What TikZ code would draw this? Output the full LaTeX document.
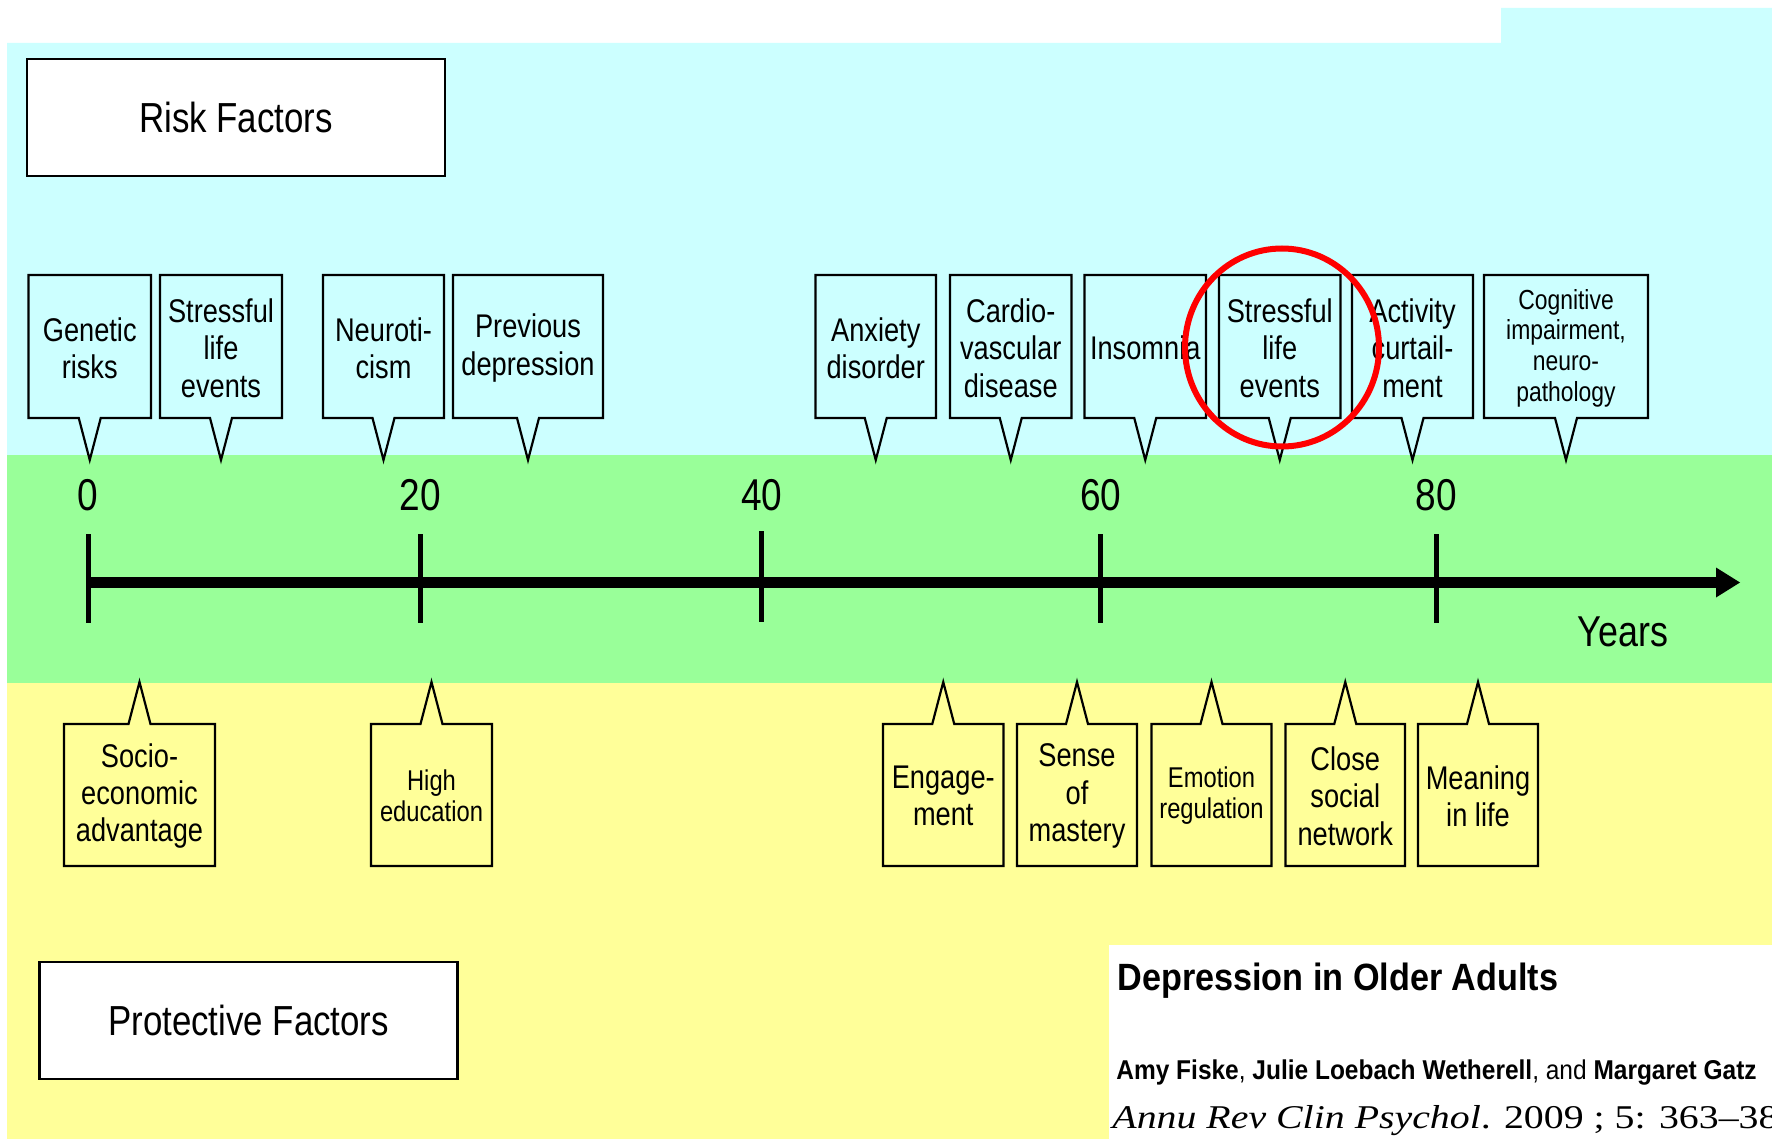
\documentclass[tikz,border=0pt]{standalone}
\usepackage{fontspec}
\setmainfont{Liberation Sans}[FakeStretch=0.83]
\newfontfamily\citesans{Liberation Sans}[FakeStretch=0.9]
\newfontfamily\citeserif{Liberation Serif}[FakeStretch=1.2]
\definecolor{cyanbg}{HTML}{CCFFFF}
\definecolor{greenbg}{HTML}{99FF99}
\definecolor{yellowbg}{HTML}{FFFF99}
\tikzset{
  callout/.style={draw=black, line width=1.1pt, line join=miter},
  calltext/.style={align=center, inner sep=0pt, font=\fontsize{16.4}{18.7}\selectfont},
  smalltext/.style={font=\fontsize{14.3}{15.5}\selectfont},
  cogtext/.style={font=\fontsize{13.8}{15.3}\selectfont},
  labelbox/.style={draw=black, line width=1.4pt, fill=white, minimum width=209pt, minimum height=58.5pt, font=\fontsize{21}{24}\selectfont, inner sep=0pt},
  ticklbl/.style={anchor=base, inner sep=0pt, font=\fontsize{22.3}{26}\selectfont},
  tickline/.style={line width=2.5pt},
}
\newcommand\riskcall[5]{%
  \draw[callout, fill=cyanbg] (#2,275) -- (#3,275) -- (#3,418) -- ({(#2+#3)/2+11},418) -- ({(#2+#3)/2},460) -- ({(#2+#3)/2-11},418) -- (#2,418) -- cycle;
  \node[calltext,#4] (#1) at ({(#2+#3)/2},348) {#5};}
\newcommand\protcall[5]{%
  \draw[callout, fill=yellowbg] (#2,866) -- (#3,866) -- (#3,724) -- ({(#2+#3)/2+11},724) -- ({(#2+#3)/2},682) -- ({(#2+#3)/2-11},724) -- (#2,724) -- cycle;
  \node[calltext,#4] (#1) at ({(#2+#3)/2},796) {#5};}
\begin{document}
\begin{tikzpicture}[x=0.5pt,y=-0.5pt]
\useasboundingbox (0,0) rectangle (1772,1139);
\clip (0,0) rectangle (1772,1139);
% backgrounds
\fill[white] (0,0) rectangle (1772,1139);
\fill[cyanbg] (7,43) -- (1501,43) -- (1501,8) -- (1772,8) -- (1772,456) -- (7,456) -- cycle;
\fill[greenbg] (7,455) rectangle (1772,683);
\fill[yellowbg] (7,683) rectangle (1772,1139);
\fill[white] (1109,945) rectangle (1772,1139);

% title boxes
\node[labelbox] (risk) at (236,117.5) {Risk Factors};
\node[labelbox] (prot) at (248.6,1020.5) {Protective Factors};

% axis
\coordinate (axstart) at (88,582.5);
\coordinate (axend) at (1717,582.5);
\coordinate (axtip) at (1740,582.5);
\draw[line width=5.5pt] (axstart) -- (axend);
\fill (1716,567.5) -- (axtip) -- (1716,597.5) -- cycle;
\foreach \xx/\lab/\ta/\tb in {88/0/534/623, 420/20/534/623, 761.6/40/531/622, 1100.6/60/534/623, 1436/80/534/623}{
  \draw[tickline] (\xx,\ta) -- (\xx,\tb);
  \node[ticklbl] (t\lab) at (\xx,510) {\lab};
}
\node[anchor=base, inner sep=0pt, font=\fontsize{21.6}{25}\selectfont] (years) at (1623,646) {Years};

% risk callouts
\riskcall{gen}{28.5}{151}{}{Genetic\\risks}
\riskcall{strA}{160}{282}{}{Stressful\\life\\events}
\riskcall{neu}{323}{444}{}{Neuroti-\\cism}
\riskcall{prev}{453}{603}{}{Previous\\depression}
\riskcall{anx}{815.5}{936}{}{Anxiety\\disorder}
\riskcall{card}{950}{1071.5}{}{Cardio-\\vascular\\disease}
\riskcall{ins}{1084.5}{1206}{}{Insomnia}
\riskcall{strB}{1219}{1340.5}{}{Stressful\\life\\events}
\riskcall{act}{1352}{1473}{}{Activity\\curtail-\\ment}
\riskcall{cog}{1484}{1648}{cogtext}{Cognitive\\impairment,\\neuro-\\pathology}

% protective callouts
\protcall{soc}{64}{215}{}{Socio-\\economic\\advantage}
\protcall{high}{371}{492}{smalltext}{High\\education}
\protcall{eng}{883}{1003.5}{}{Engage-\\ment}
\protcall{sen}{1017}{1137}{}{Sense\\of\\mastery}
\protcall{emo}{1151.5}{1271.5}{smalltext}{Emotion\\regulation}
\protcall{clo}{1285.5}{1405}{}{Close\\social\\network}
\protcall{mea}{1418}{1538}{}{Meaning\\in life}

% highlight
\draw[red, line width=3pt] (1282,347.5) ellipse [x radius=48.5pt, y radius=49.5pt];

% citation
\node[anchor=base west, inner sep=0pt, font=\citesans\bfseries\fontsize{19}{22}\selectfont] (depr) at (1117,990) {Depression in Older Adults};
\node[anchor=base west, inner sep=0pt, font=\citesans\fontsize{13.6}{16}\selectfont] (auth) at (1116,1079) {\textbf{Amy Fiske}, \textbf{Julie Loebach Wetherell}, and \textbf{Margaret Gatz}};
\node[anchor=base west, inner sep=0pt, font=\citeserif\fontsize{16.6}{19}\selectfont] (annu) at (1112,1128) {\textit{Annu Rev Clin Psychol}. 2009 ; 5: 363–38};
\end{tikzpicture}
\end{document}
